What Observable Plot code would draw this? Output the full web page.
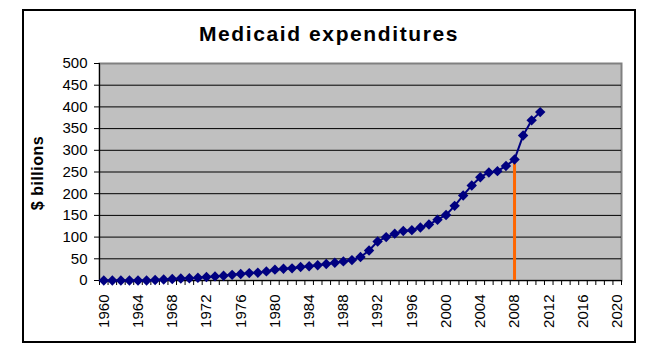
<!DOCTYPE html>
<html><head><meta charset="utf-8">
<script src="https://cdn.jsdelivr.net/npm/d3@7"></script>
<script src="https://cdn.jsdelivr.net/npm/@observablehq/plot@0.6"></script>
<style>
body{margin:0;background:#fff;}
#wrap{position:relative;width:652px;height:355px;font-family:"Liberation Sans",Arial,sans-serif;overflow:hidden;}
#frame{position:absolute;left:22px;top:9px;width:614px;height:334px;border:2px solid #000;box-sizing:border-box;}
#title{position:absolute;left:0;width:658px;top:22px;text-align:center;font-weight:bold;font-size:21px;letter-spacing:1.6px;color:#000;}
#ylab{position:absolute;left:38px;top:173px;transform:translate(-50%,-50%) rotate(-90deg);font-weight:bold;font-size:16px;letter-spacing:0.5px;white-space:nowrap;color:#000;}
#chart{position:absolute;left:0;top:0;}
</style></head>
<body>
<div id="wrap">
  <div id="frame"></div>
  <div id="chart"></div>
  <div id="title">Medicaid expenditures</div>
  <div id="ylab">$ billions</div>
</div>
<script>
const years = [1960,1961,1962,1963,1964,1965,1966,1967,1968,1969,1970,1971,1972,1973,1974,1975,1976,1977,1978,1979,1980,1981,1982,1983,1984,1985,1986,1987,1988,1989,1990,1991,1992,1993,1994,1995,1996,1997,1998,1999,2000,2001,2002,2003,2004,2005,2006,2007,2008,2009,2010,2011];
const spending = [0,0,0,0,0,0,1,2.5,3.5,4.5,5,6.5,8,9.5,11,13,15,17,18,21,25,27,28,31,33,35,38,41,44,47,54,69,90,100,108,114,116,122,129,140,151,172,196,219,238,249,252,264,279,334,369,388];
const yTicks = [0,50,100,150,200,250,300,350,400,450,500];
const xLabelYears = [1960,1964,1968,1972,1976,1980,1984,1988,1992,1996,2000,2004,2008,2012,2016,2020];
const xDomain = [1959.5, 2020.5];
const markYear = 2008;

const data = years.map((y, i) => ({year: y, value: spending[i]}));
const boundaries = d3.range(xDomain[0], xDomain[1] + 0.01, 1);

const chart = Plot.plot({
  width: 652, height: 355,
  marginLeft: 99, marginRight: 31, marginTop: 63, marginBottom: 75,
  style: {fontFamily: "'Liberation Sans', Arial, sans-serif", fontSize: "15px", color: "#000", background: "transparent", overflow: "visible"},
  x: {type: "linear", domain: xDomain},
  y: {domain: [0, 500]},
  marks: [
    Plot.frame({fill: "#c0c0c0", stroke: "#808080", strokeWidth: 2}),
    Plot.gridY(yTicks.filter(d => d > 0 && d < 500), {stroke: "#000", strokeOpacity: 1, strokeWidth: 1}),
    Plot.ruleX([xDomain[0]], {stroke: "#000", strokeWidth: 1}),
    Plot.ruleY([0], {stroke: "#000", strokeWidth: 1}),
    Plot.axisY(yTicks, {tickSize: 5, tickPadding: 7, label: null, stroke: "#000"}),
    Plot.axisX(boundaries, {tickSize: 5, tickFormat: () => "", label: null, stroke: "#000"}),
    Plot.axisX(xLabelYears, {tickSize: 0, tickPadding: 14, tickRotate: -90, tickFormat: d => String(d), label: null}),
    Plot.ruleX(data.filter(d => d.year === markYear), {x: "year", y1: 0, y2: "value", stroke: "#ff6600", strokeWidth: 3, insetBottom: -4}),
    Plot.line(data, {x: "year", y: "value", stroke: "#000080", strokeWidth: 2}),
    Plot.dot(data, {x: "year", y: "value", symbol: "diamond2", r: 4.7, fill: "#000080", stroke: "none"})
  ]
});
document.getElementById("chart").appendChild(chart);
</script>
</body></html>
